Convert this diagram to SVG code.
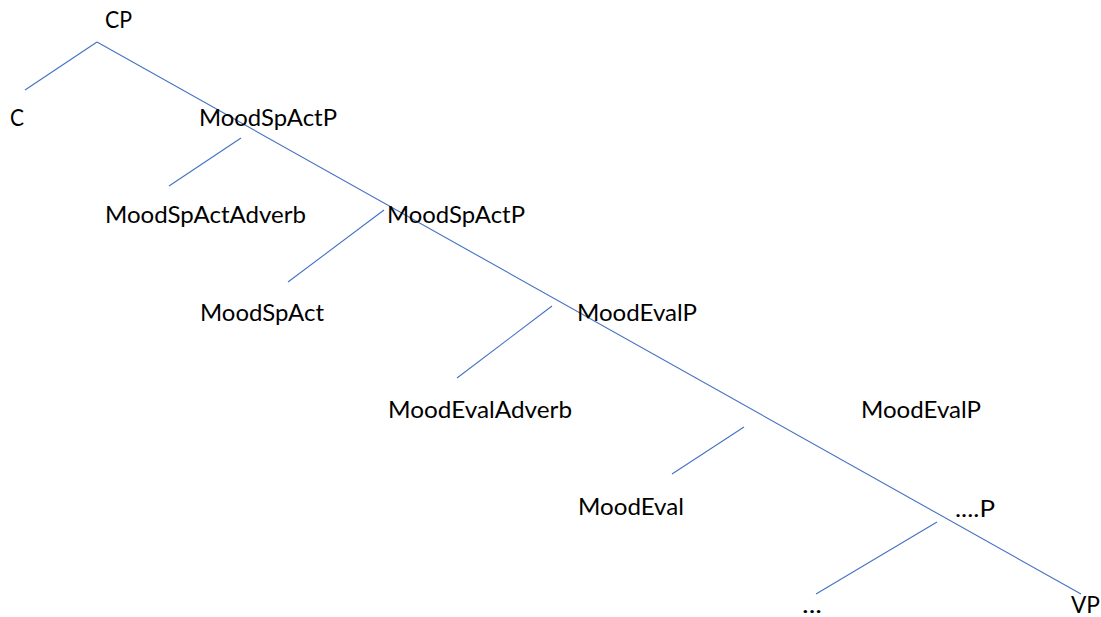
<svg xmlns="http://www.w3.org/2000/svg" width="1101" height="617" viewBox="0 0 1101 617">
  <style>
    .lbl { font-family: Lato, "Open Sans", "Liberation Sans", sans-serif; font-size: 23.5px; fill: #000000; }
    .edge { stroke: #4472C4; stroke-width: 1.1; fill: none; }
  </style>
  <rect width="1101" height="617" fill="#ffffff"/>

  <!-- tree branches -->
  <g id="connectors">
    <line class="edge" x1="97" y1="42" x2="1081" y2="594"/>
    <line class="edge" x1="97" y1="42" x2="25" y2="90"/>
    <line class="edge" x1="241" y1="138" x2="169" y2="186"/>
    <line class="edge" x1="384" y1="210" x2="288" y2="282"/>
    <line class="edge" x1="552" y1="306" x2="457" y2="378"/>
    <line class="edge" x1="744" y1="427" x2="672" y2="474"/>
    <line class="edge" x1="937" y1="522" x2="816" y2="594"/>
  </g>

  <!-- node labels -->
  <g id="n-cp"><text class="lbl" x="105" y="28" textLength="27" lengthAdjust="spacingAndGlyphs">CP</text></g>
  <g id="n-c"><text class="lbl" x="10" y="126" textLength="14" lengthAdjust="spacingAndGlyphs">C</text></g>
  <g id="n-moodspactp1"><text class="lbl" x="199" y="126" textLength="138" lengthAdjust="spacingAndGlyphs">MoodSpActP</text></g>
  <g id="n-moodspactadverb"><text class="lbl" x="105" y="223" textLength="201" lengthAdjust="spacingAndGlyphs">MoodSpActAdverb</text></g>
  <g id="n-moodspactp2"><text class="lbl" x="387" y="223" textLength="138" lengthAdjust="spacingAndGlyphs">MoodSpActP</text></g>
  <g id="n-moodspact"><text class="lbl" x="200" y="321" textLength="124" lengthAdjust="spacingAndGlyphs">MoodSpAct</text></g>
  <g id="n-moodevalp1"><text class="lbl" x="577" y="321" textLength="120" lengthAdjust="spacingAndGlyphs">MoodEvalP</text></g>
  <g id="n-moodevaladverb"><text class="lbl" x="388" y="418" textLength="184" lengthAdjust="spacingAndGlyphs">MoodEvalAdverb</text></g>
  <g id="n-moodevalp2"><text class="lbl" x="861" y="418" textLength="120" lengthAdjust="spacingAndGlyphs">MoodEvalP</text></g>
  <g id="n-moodeval"><text class="lbl" x="578" y="515" textLength="106" lengthAdjust="spacingAndGlyphs">MoodEval</text></g>
  <g id="n-dotsp"><text class="lbl" x="955" y="517" textLength="40" lengthAdjust="spacingAndGlyphs">....P</text></g>
  <g id="n-dots"><text class="lbl" x="802" y="613" textLength="20" lengthAdjust="spacingAndGlyphs">...</text></g>
  <g id="n-vp"><text class="lbl" x="1071" y="613" textLength="29" lengthAdjust="spacingAndGlyphs">VP</text></g>
</svg>
